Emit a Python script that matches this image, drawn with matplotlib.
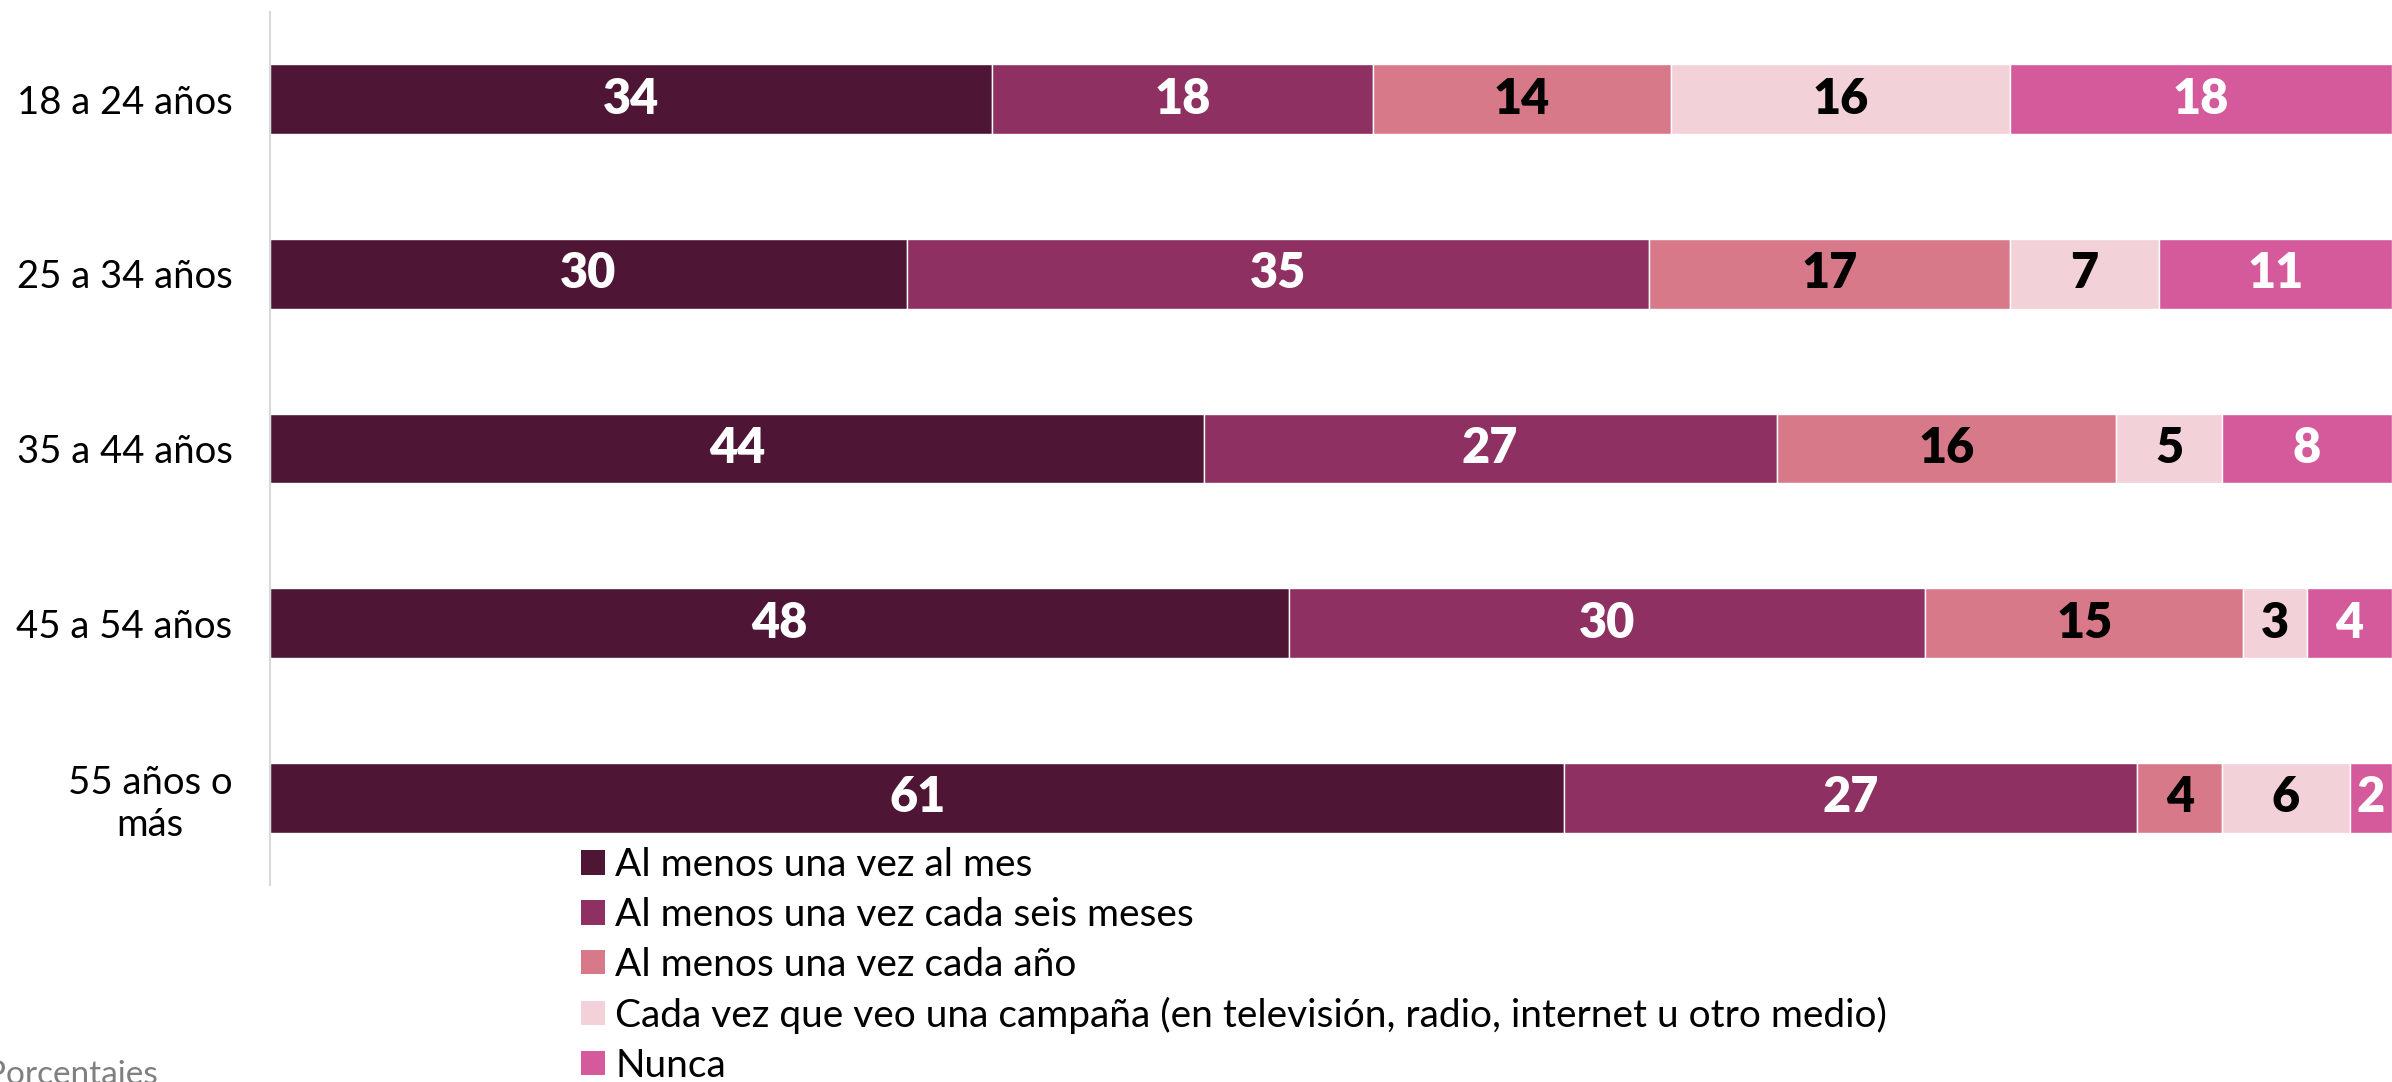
import matplotlib
matplotlib.use("Agg")
import matplotlib.pyplot as plt
from matplotlib.patches import Patch
import numpy as np

plt.rcParams['font.family'] = ['Lato', 'DejaVu Sans']

categories = ["18 a 24 años", "25 a 34 años", "35 a 44 años", "45 a 54 años", "55 años o\nmás"]
series_names = [
    "Al menos una vez al mes",
    "Al menos una vez cada seis meses",
    "Al menos una vez cada año",
    "Cada vez que veo una campaña (en televisión, radio, internet u otro medio)",
    "Nunca",
]
al_mes = [34, 30, 44, 48, 61]
seis_meses = [18, 35, 27, 30, 27]
cada_anio = [14, 17, 16, 15, 4]
campania = [16, 7, 5, 3, 6]
nunca = [18, 11, 8, 4, 2]

series = [al_mes, seis_meses, cada_anio, campania, nunca]
colors = ["#4E1535", "#8E3061", "#D8798A", "#F2D1D8", "#D45A9C"]
label_colors = ["white", "white", "black", "black", "white"]

fig = plt.figure(figsize=(23.92, 10.82), dpi=100)
ax = fig.add_axes([0.1129, 0.182, 0.8871, 0.807])

y = np.arange(len(categories))
left = np.zeros(len(categories))
for vals, col, lc, name in zip(series, colors, label_colors, series_names):
    vals = np.array(vals, dtype=float)
    ax.barh(y, vals, left=left, height=0.4, color=col, edgecolor="white",
            linewidth=1.0, label=name)
    for yi, l, v in zip(y, left, vals):
        ax.text(l + v / 2, yi, f"{int(v)}", ha="center", va="center",
                color=lc, fontsize=35, fontweight="heavy", clip_on=False)
    left += vals

ax.set_xlim(0, 100)
ax.set_ylim(len(categories) - 0.5, -0.5)
ax.set_yticks(y)
ax.set_yticklabels(categories, fontsize=27.5, ha="right", multialignment="center")
ax.tick_params(axis="y", length=0, pad=27)
ax.set_xticks([])
for s in ["top", "right", "bottom"]:
    ax.spines[s].set_visible(False)
ax.spines["left"].set_color("#D9D9D9")
ax.spines["left"].set_linewidth(1.5)

handles = [Patch(facecolor=c, edgecolor="none") for c in colors]
fig.legend(handles, series_names, loc="upper left", bbox_to_anchor=(0.243, 0.217),
           frameon=False, fontsize=28, handlelength=0.6, handleheight=0.6,
           handletextpad=0.28, labelspacing=0.355, borderaxespad=0, borderpad=0)

fig.text(-0.006, 1 - 1060 / 1082, "Porcentajes", fontsize=24, color="#808080",
         ha="left", va="top")

fig.savefig("out.png", dpi=100)
